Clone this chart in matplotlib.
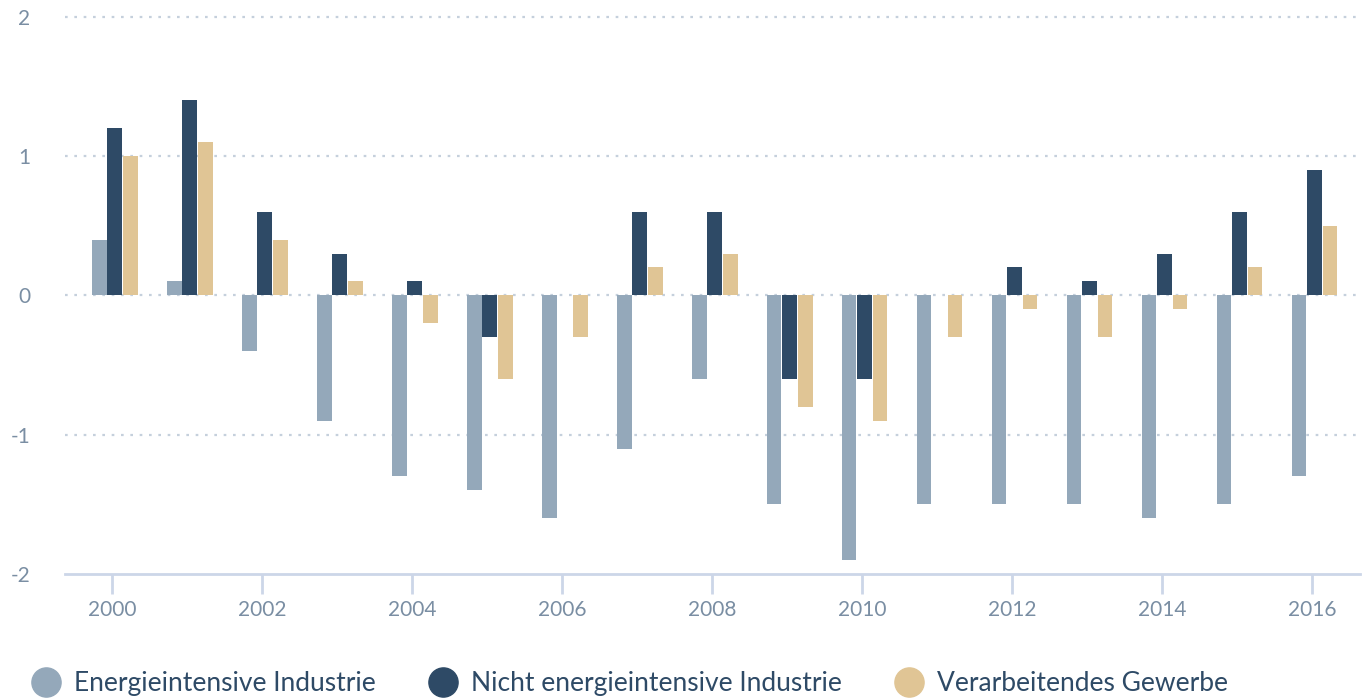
import matplotlib
matplotlib.use('Agg')
import matplotlib.pyplot as plt
import numpy as np
from matplotlib.lines import Line2D

plt.rcParams['font.family'] = ['Lato', 'DejaVu Sans']

years = list(range(2000, 2017))
energie = [0.4, 0.1, -0.4, -0.9, -1.3, -1.4, -1.6, -1.1, -0.6, -1.5, -1.9, -1.5, -1.5, -1.5, -1.6, -1.5, -1.3]
nicht = [1.2, 1.4, 0.6, 0.3, 0.1, -0.3, 0.0, 0.6, 0.6, -0.6, -0.6, 0.0, 0.2, 0.1, 0.3, 0.6, 0.9]
verarb = [1.0, 1.1, 0.4, 0.1, -0.2, -0.6, -0.3, 0.2, 0.3, -0.8, -0.9, -0.3, -0.1, -0.3, -0.1, 0.2, 0.5]
labels = ['Energieintensive Industrie', 'Nicht energieintensive Industrie', 'Verarbeitendes Gewerbe']
colors = ['#94a8ba', '#2e4a66', '#e0c595']

text_col = '#7a8ea3'
axis_col = '#ccd6e8'

fig = plt.figure(figsize=(13.68, 6.99), dpi=100)
ax = fig.add_axes([0.0475, 0.179, 0.9465, 0.801])

# bars sit a touch right of the year ticks in the original
x = np.array(years) + 0.035
w = 0.197
ax.bar(x - 0.207, energie, width=w, color=colors[0], zorder=3)
ax.bar(x, nicht, width=w, color=colors[1], zorder=3)
ax.bar(x + 0.207, verarb, width=w, color=colors[2], zorder=3)

ax.set_xlim(1999.37, 2016.64)
ax.set_ylim(-2, 2.02)

for yv in [2, 1, 0, -1]:
    ax.axhline(yv, color='#c5d0dc', linestyle=(0, (1.2, 3)), linewidth=1.6, zorder=1)

for s in ['top', 'right', 'left']:
    ax.spines[s].set_visible(False)
ax.spines['bottom'].set_color(axis_col)
ax.spines['bottom'].set_linewidth(2)

ax.set_yticks([-2, -1, 0, 1, 2])
ax.set_yticklabels(['-2', '-1', '0', '1', '2'])
ax.tick_params(axis='y', length=0, pad=25, labelsize=15, labelcolor=text_col)

ax.set_xticks(years[::2])
ax.set_xticklabels([str(y) for y in years[::2]])
ax.tick_params(axis='x', length=14.5, width=2, color=axis_col, pad=4, labelsize=15, labelcolor=text_col)

handles = [Line2D([0], [0], marker='o', linestyle='none', markersize=21,
                  markerfacecolor=c, markeredgecolor=c) for c in colors]
fig.legend(handles, labels, loc='lower left', bbox_to_anchor=(0.005, -0.03), ncol=3,
           frameon=False, fontsize=19, labelcolor='#2e4a66', handletextpad=0.45,
           columnspacing=1.95, handlelength=1.2)

fig.savefig('out.png', dpi=100)
